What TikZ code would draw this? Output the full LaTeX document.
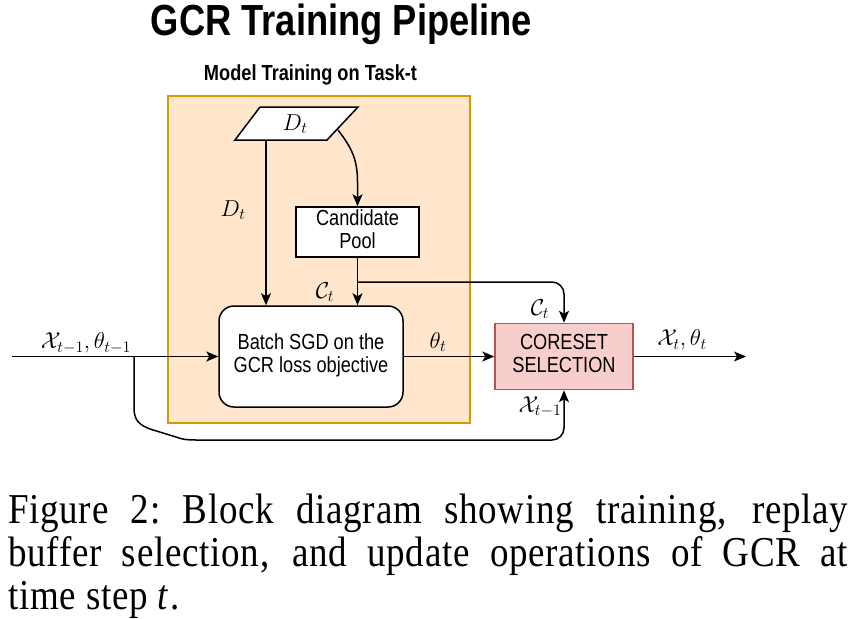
\RequirePackage{fix-cm}
\documentclass[tikz,border=0pt]{standalone}
\usepackage[no-math]{fontspec}
\setmainfont{Liberation Serif}
\setsansfont{Liberation Sans}
\newfontfamily\capfont[LetterSpace=2]{Liberation Serif}
\usepackage{graphicx}
\usetikzlibrary{arrows.meta}
\definecolor{grpfill}{HTML}{FFE6CC}
\definecolor{grpline}{HTML}{D79B00}
\definecolor{csfill}{HTML}{F8CECC}
\definecolor{csline}{HTML}{B85450}
\newcommand\vst[1]{\scalebox{1}[1.2]{#1}}
\newcommand\vtwo[2]{\scalebox{1}[1.2]{\begin{tabular}{@{}c@{}}#1\\#2\end{tabular}}}
\tikzset{
  conn/.style={line width=1.5pt,-{Stealth[length=12pt,width=10pt,inset=3pt]}},
  plain/.style={line width=1.5pt},
  boxtxt/.style={font=\sffamily\fontsize{18.2}{19.2}\selectfont,inner sep=0pt},
  mlabel/.style={font=\fontsize{23}{26}\selectfont,inner sep=0pt},
}
\begin{document}
\begin{tikzpicture}[x=1pt,y=-1pt]
\useasboundingbox (0,0) rectangle (864,618);
% title
\node[anchor=base,inner sep=0pt,font=\sffamily\bfseries\fontsize{36.3}{40}\selectfont] (title) at (341.5,36) {\vst{GCR Training Pipeline}};
\node[anchor=base,inner sep=0pt,font=\sffamily\bfseries\fontsize{18.2}{20}\selectfont] (grplabel) at (310.5,81) {\vst{Model Training on Task-t}};
% group box
\node[draw=grpline,fill=grpfill,line width=1.5pt,minimum width=302pt,minimum height=327pt,inner sep=0pt] (grp) at (319,259.5) {};
% parallelogram D_t
\draw[plain,fill=white] (235,140) -- (260,107) -- (358,107) -- (327,140) -- cycle;
\node[mlabel] (dt) at (295,124) {$D_t$};
% candidate pool
\node[draw,fill=white,line width=1.5pt,minimum width=123pt,minimum height=50pt,boxtxt] (cp) at (357.5,232) {\vtwo{Candidate}{Pool}};
% batch sgd
\node[draw,fill=white,line width=1.5pt,rounded corners=15pt,minimum width=184pt,minimum height=101pt,boxtxt] (batch) at (311,356.5) {\vtwo{Batch SGD on the}{GCR loss objective}};
% coreset
\node[draw=csline,fill=csfill,line width=1.5pt,minimum width=138pt,minimum height=66pt,boxtxt] (cs) at (564,356.5) {\vtwo{CORESET}{SELECTION}};
% coordinates
\coordinate (in) at (12,356.5);
\coordinate (split) at (134,356.5);
\coordinate (outend) at (746,356.5);
\coordinate (dtl) at (266,140);
\coordinate (dtr) at (338,130);
\coordinate (ctsplit) at (357.5,282);
% connectors
\draw[conn] (in) -- (batch.west);
\draw[conn] (batch.east) -- (cs.west);
\draw[conn] (cs.east) -- (outend);
\draw[conn] (dtl) -- (batch.north -| dtl);
\draw[conn] (dtr) .. controls (352,148) and (357.5,160) .. (357.5,182) -- (cp.north);
\draw[conn] (cp.south) -- (batch.north -| cp.south);
\draw[conn,rounded corners=12pt] (ctsplit) -- (ctsplit -| cs.north) -- (cs.north);
\draw[conn] (split) -- (134,408) .. controls (134,421) and (140,425) .. (150,429) -- (176,437) .. controls (181,439) and (186,440) .. (196,440) [rounded corners=12pt] -- (cs.south |- 0,440) -- (cs.south);
% labels
\node[mlabel] (lin) at (86,343) {$\mathcal{X}_{t-1},\theta_{t-1}$};
\node[mlabel] (lDt) at (233,210) {$D_t$};
\node[mlabel] (lCt1) at (325,292) {$\mathcal{C}_t$};
\node[mlabel] (lCt2) at (540,309) {$\mathcal{C}_t$};
\node[mlabel] (ltheta) at (438,342) {$\theta_t$};
\node[mlabel] (lout) at (682,340) {$\mathcal{X}_t,\theta_t$};
\node[mlabel] (lxprev) at (540,407) {$\mathcal{X}_{t-1}$};
% caption
\node[anchor=base west,inner sep=0pt] (caption) at (8,523) {\scalebox{1}[1.15]{\parbox[t]{840pt}{\capfont\fontsize{37}{37.4}\selectfont Figure 2:\ Block diagram showing training, replay\linebreak buffer selection, and update operations of GCR at\linebreak time step \textit{t}\kern1pt.}}};
\end{tikzpicture}
\end{document}
